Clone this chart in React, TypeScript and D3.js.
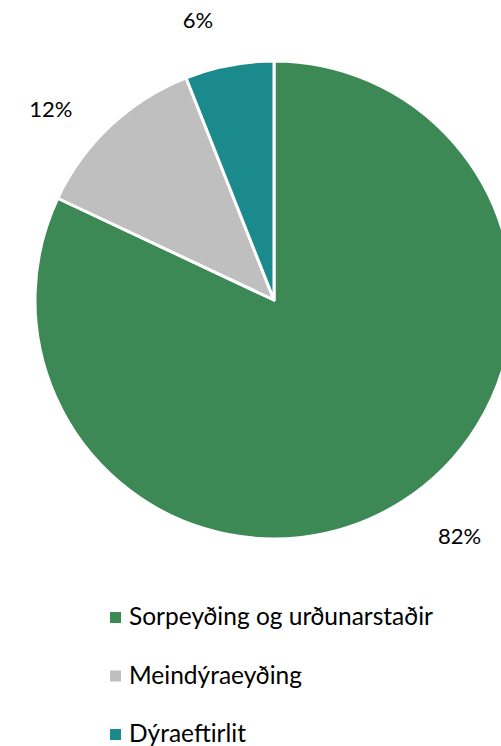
import React from "react";
import * as d3 from "d3";

const categories = ["Sorpeyðing og urðunarstaðir", "Meindýraeyðing", "Dýraeftirlit"];
const values = [82, 12, 6];
const labels = ["82%", "12%", "6%"];
const colors = ["#3D8955", "#BFBFBF", "#1A8A8C"];
// label nudges (px) from the outer-centroid placement
const labelNudge = [
  [28, -4],
  [-22, 31],
  [-21, 17],
];

const W = 501;
const H = 746;
const cx = 274;
const cy = 300;
const R = 239;
const FONT = "Lato, 'Noto Sans', sans-serif";

export default function App() {
  const pie = d3.pie<number>().sort(null).value((d) => d);
  const arcs = pie(values);
  const arcGen = d3.arc<d3.PieArcDatum<number>>().innerRadius(0).outerRadius(R);
  const labelArc = d3.arc<d3.PieArcDatum<number>>().innerRadius(R + 55).outerRadius(R + 55);
  const legendY = d3.scalePoint<string>().domain(categories).range([625, 742]);

  return (
    <svg
      width={W}
      height={H}
      style={{ position: "absolute", left: 0, top: 0, background: "#fff" }}
      fontFamily={FONT}
    >
      <g transform={`translate(${cx},${cy})`}>
        {arcs.map((a, i) => (
          <path key={i} d={arcGen(a) || ""} fill={colors[i]} stroke="#fff" strokeWidth={3} strokeLinejoin="round" />
        ))}
        {arcs.map((a, i) => {
          const [x, y] = labelArc.centroid(a);
          return (
            <text
              key={"l" + i}
              x={x + labelNudge[i][0]}
              y={y + labelNudge[i][1]}
              textAnchor="middle"
              fontSize={22}
              fill="#000"
            >
              {labels[i]}
            </text>
          );
        })}
      </g>
      {categories.map((c, i) => {
        const y = legendY(c) || 0;
        return (
          <g key={c} transform={`translate(110,${y})`}>
            <rect x={0} y={-13} width={11} height={11} fill={colors[i]} />
            <text x={19} y={0} fontSize={24.5} fill="#000">
              {c}
            </text>
          </g>
        );
      })}
    </svg>
  );
}
